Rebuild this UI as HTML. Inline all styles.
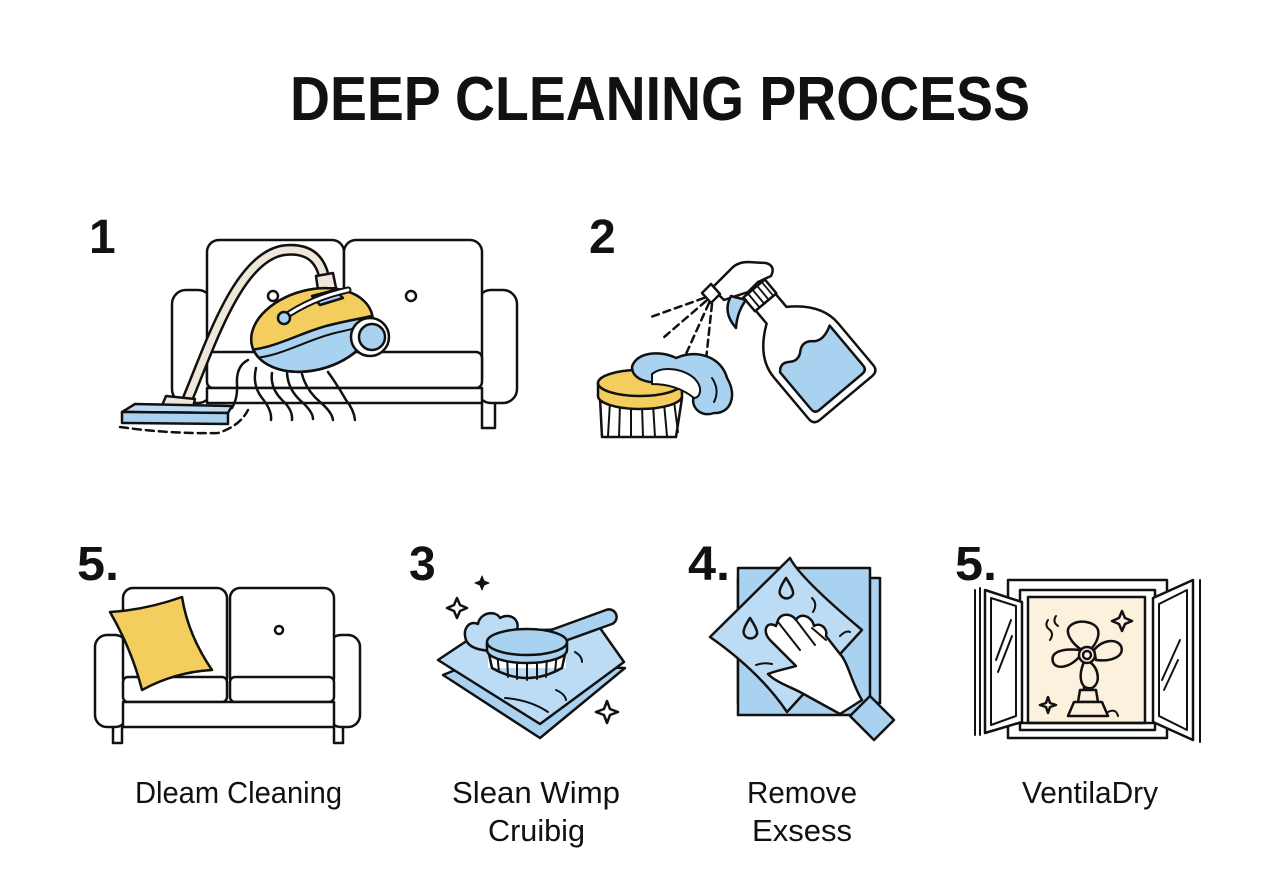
<!DOCTYPE html>
<html><head><meta charset="utf-8"><style>
html,body{margin:0;padding:0;background:#fff;}
svg{display:block;}
text{font-family:"Liberation Sans",sans-serif;fill:#111;}
</style></head><body>
<svg width="1280" height="896" viewBox="0 0 1280 896" xmlns="http://www.w3.org/2000/svg">
<rect width="1280" height="896" fill="#fff"/>
<defs>
<clipPath id="vb"><ellipse cx="312" cy="330" rx="62" ry="40" transform="rotate(-15 312 330)"/></clipPath>
</defs>

<!-- Title -->
<text x="290" y="120" font-size="62" font-weight="bold" textLength="740" lengthAdjust="spacingAndGlyphs">DEEP CLEANING PROCESS</text>

<!-- Numbers -->
<text x="89" y="253" font-size="48" font-weight="bold">1</text>
<text x="589" y="253" font-size="48" font-weight="bold">2</text>
<text x="77" y="580" font-size="48" font-weight="bold" textLength="42" lengthAdjust="spacingAndGlyphs">5.</text>
<text x="409" y="580" font-size="48" font-weight="bold">3</text>
<text x="688" y="580" font-size="48" font-weight="bold" textLength="42" lengthAdjust="spacingAndGlyphs">4.</text>
<text x="955" y="580" font-size="48" font-weight="bold" textLength="42" lengthAdjust="spacingAndGlyphs">5.</text>

<!-- Labels -->
<text x="135" y="803" font-size="31" textLength="207" lengthAdjust="spacingAndGlyphs">Dleam Cleaning</text>
<text x="452" y="803" font-size="31" textLength="168" lengthAdjust="spacingAndGlyphs">Slean Wimp</text>
<text x="488" y="841" font-size="31" textLength="97" lengthAdjust="spacingAndGlyphs">Cruibig</text>
<text x="747" y="803" font-size="31" textLength="110" lengthAdjust="spacingAndGlyphs">Remove</text>
<text x="752" y="841" font-size="31" textLength="100" lengthAdjust="spacingAndGlyphs">Exsess</text>
<text x="1022" y="803" font-size="31" textLength="136" lengthAdjust="spacingAndGlyphs">VentilaDry</text>

<g fill="none" stroke="#111" stroke-width="2.5" stroke-linejoin="round" stroke-linecap="round">

<!-- ===== Step 1: sofa + vacuum ===== -->
<rect x="482" y="400" width="13" height="28" fill="#fff"/>
<rect x="172" y="290" width="40" height="113" rx="14" fill="#fff"/>
<rect x="477" y="290" width="40" height="113" rx="14" fill="#fff"/>
<rect x="207" y="240" width="137" height="150" rx="12" fill="#fff"/>
<rect x="344" y="240" width="138" height="150" rx="12" fill="#fff"/>
<rect x="207" y="352" width="275" height="36" rx="6" fill="#fff"/>
<rect x="207" y="388" width="275" height="15" fill="#fff"/>
<circle cx="273" cy="296" r="5" fill="#fff"/>
<circle cx="411" cy="296" r="5" fill="#fff"/>

<!-- air lines -->
<path d="M248 360 Q236 366 237 384 Q238 398 232 408"/>
<path d="M256 368 Q252 385 262 398 Q272 410 271 420"/>
<path d="M272 373 Q270 388 282 400 Q293 410 292 420"/>
<path d="M287 373 Q288 390 302 402 Q313 412 313 419"/>
<path d="M302 374 Q306 390 320 402 Q332 412 333 420"/>
<path d="M328 372 Q338 386 346 400 Q354 410 355 420"/>

<!-- hose -->
<path d="M188 398 C212 340 240 254 286 250 C312 248 322 262 325 282" stroke-width="12"/>
<path d="M188 398 C212 340 240 254 286 250 C312 248 322 262 325 282" stroke="#efe7da" stroke-width="7"/>
<polygon points="316,276 333,273 336,288 318,290" fill="#efe7da"/>

<!-- vacuum body -->
<ellipse cx="312" cy="330" rx="62" ry="40" transform="rotate(-15 312 330)" fill="#a9d2f0"/>
<path clip-path="url(#vb)" d="M240 350 C270 352 300 332 330 325 C350 320 365 318 380 314 L380 270 L240 270 Z" fill="#f3cd5e" stroke="none"/>
<path clip-path="url(#vb)" d="M240 350 C270 352 300 332 330 325 C350 320 365 318 380 314"/>
<path clip-path="url(#vb)" d="M246 358 C275 360 305 340 335 333 C352 329 366 326 380 322" stroke-width="2"/>
<ellipse cx="312" cy="330" rx="62" ry="40" transform="rotate(-15 312 330)"/>
<path d="M312 296 L335 290 L343 298 L320 305 Z" fill="#a9d2f0"/>
<path d="M283 318 C300 306 320 296 348 290" stroke-width="7"/>
<path d="M283 318 C300 306 320 296 348 290" stroke="#fff" stroke-width="3"/>
<circle cx="284" cy="318" r="6" fill="#a9d2f0"/>
<circle cx="370" cy="337" r="19" fill="#fff"/>
<circle cx="372" cy="337" r="13" fill="#a9d2f0"/>

<!-- nozzle -->
<polygon points="161,408 166,396 195,399 192,411" fill="#efe7da"/>
<polygon points="122,412 135,404 232,406 228,413" fill="#bcdcf5"/>
<polygon points="122,412 228,413 228,424 122,423" fill="#a9d2f0"/>
<path d="M120 427 Q170 434 218 433 Q240 426 248 410" stroke-dasharray="8 5"/>

<!-- ===== Step 2: brush + spray ===== -->
<!-- spray dashes -->
<path d="M704 298 L648 318" stroke-dasharray="7 5"/>
<path d="M706 301 L663 338" stroke-dasharray="7 5"/>
<path d="M709 303 L686 354" stroke-dasharray="7 5"/>
<path d="M712 304 L706 360" stroke-dasharray="7 5"/>

<!-- bottle -->
<g transform="translate(846,398) rotate(-40)">
<path d="M-13 -125 L-13 -108 Q-42 -88 -42 -62 L-42 -8 Q-42 0 -34 0 L34 0 Q42 0 42 -8 L42 -62 Q42 -88 13 -108 L13 -125 Z" fill="#fff"/>
<path d="M-34 -62 Q-28 -70 -20 -64 Q-12 -58 -4 -66 Q4 -72 12 -64 Q20 -58 34 -66 L34 -14 Q34 -8 28 -8 L-28 -8 Q-34 -8 -34 -14 Z" fill="#a9d2f0"/>
<rect x="-14" y="-143" width="28" height="18" fill="#fff"/>
<path d="M-8 -142 L-8 -126 M-2 -142 L-2 -126 M4 -142 L4 -126 M10 -142 L10 -126" stroke-width="1.8"/>
</g>
<!-- trigger head (absolute) -->
<path d="M712 288 L732 268 Q738 262 748 262 L766 263 Q776 266 771 276 L758 282 L748 292 L724 300 Z" fill="#fff"/>
<polygon points="702,293 711,284 720,294 711,303" fill="#fff"/>
<path d="M731 296 Q722 312 736 328 Q737 312 746 300 Z" fill="#a9d2f0"/>

<!-- brush -->
<rect x="600" y="396" width="80" height="40" fill="#fff" stroke="none"/>
<path d="M600 398 L602 437 L676 437 L682 398"/>
<path d="M610 402 L608 436 M620 404 L619 437 M631 405 L631 437 M642 405 L643 437 M653 404 L655 437 M664 403 L667 436 M674 401 L678 432" stroke-width="2"/>
<path d="M598 383 L598 396 A42 13 0 0 0 682 396 L682 383 Z" fill="#f3cd5e"/>
<ellipse cx="640" cy="383" rx="42" ry="13" fill="#f3cd5e"/>
<!-- cloth blob -->
<path d="M632 367 C636 352 660 350 676 358 C698 348 722 358 727 378 C738 396 730 414 714 413 C700 418 690 406 694 396 C690 386 674 384 664 382 C650 384 632 380 632 367 Z" fill="#a9d2f0"/>
<path d="M652 374 C662 366 682 368 694 378 C704 388 700 398 694 398 C684 390 670 384 652 384 Z" fill="#fff" stroke-width="2"/>
<path d="M712 378 Q720 390 714 402" stroke-width="2"/>

<!-- ===== Step 5 sofa (bottom left) ===== -->
<rect x="113" y="722" width="9" height="21" fill="#fff"/>
<rect x="334" y="722" width="9" height="21" fill="#fff"/>
<rect x="95" y="635" width="32" height="92" rx="12" fill="#fff"/>
<rect x="329" y="635" width="31" height="92" rx="12" fill="#fff"/>
<rect x="123" y="588" width="104" height="100" rx="10" fill="#fff"/>
<rect x="230" y="588" width="104" height="100" rx="10" fill="#fff"/>
<rect x="123" y="677" width="104" height="25" rx="5" fill="#fff"/>
<rect x="230" y="677" width="104" height="25" rx="5" fill="#fff"/>
<rect x="123" y="702" width="211" height="25" fill="#fff"/>
<circle cx="279" cy="630" r="4" fill="#fff"/>
<path d="M110 612 Q145 610 182 597 Q188 635 212 670 Q175 672 142 690 Q132 650 110 612 Z" fill="#f3cd5e"/>

<!-- ===== Step 3 scrub ===== -->
<path d="M443 675 L470 664 L625 668 L540 738 Z" fill="#a9d2f0"/>
<path d="M438 660 L480 632 L600 628 L624 662 L540 724 Z" fill="#bcdcf5"/>
<path d="M505 698 Q530 700 548 712 M556 690 Q565 694 566 700 M575 652 Q582 656 582 662" stroke-width="2"/>
<path d="M466 640 C462 628 470 620 478 624 C480 612 496 610 500 618 C510 612 522 620 516 632 L500 650 C488 652 470 650 466 640 Z" fill="#bcdcf5"/>
<path d="M540 634 L606 610 A7 7 0 0 1 612 624 L548 647 Z" fill="#a9d2f0"/>
<rect x="488" y="642" width="78" height="26" fill="#fff" stroke="none"/>
<path d="M487 645 L492 668 Q527 688 562 668 L567 645"/>
<path d="M497 652 L499 672 M507 655 L508 677 M517 656 L517 679 M527 657 L527 680 M537 656 L537 679 M547 655 L546 677 M557 652 L555 672" stroke-width="2"/>
<path d="M487 642 L487 650 A40 13 0 0 0 567 650 L567 642 Z" fill="#a9d2f0"/>
<ellipse cx="527" cy="642" rx="40" ry="13" fill="#a9d2f0"/>
<path d="M482 576 L484 581 L489 583 L484 585 L482 590 L480 585 L475 583 L480 581 Z" fill="#111" stroke-width="1"/>
<path d="M457 598 L460 605 L467 608 L460 611 L457 618 L454 611 L447 608 L454 605 Z" fill="#fff"/>
<path d="M607 701 L610 709 L618 712 L610 715 L607 723 L604 715 L596 712 L604 709 Z" fill="#fff"/>

<!-- ===== Step 4 wipe ===== -->
<rect x="738" y="578" width="142" height="125" fill="#a9d2f0"/>
<rect x="738" y="568" width="132" height="147" fill="#a9d2f0"/>
<path d="M710 637 L790 558 Q800 578 862 630 L787 712 Q760 672 710 637 Z" fill="#bcdcf5"/>
<path d="M786 578 Q778 590 780 594 A7 7 0 0 0 793 594 Q794 590 786 578 Z" fill="#bcdcf5"/>
<path d="M750 618 Q742 630 744 634 A7 7 0 0 0 757 634 Q758 630 750 618 Z" fill="#bcdcf5"/>
<path d="M812 598 Q818 604 813 612 M840 636 Q846 630 850 632 M756 665 Q764 662 772 664" stroke-width="2"/>
<path d="M840 714 L800 692 C788 686 776 682 768 674 C778 670 790 668 796 666 L770 640 C762 632 766 620 776 626 L778 620 C782 612 792 614 796 620 C800 612 812 616 814 626 C820 622 828 628 826 636 L840 654 C848 662 852 684 862 700 Z" fill="#fff"/>
<path d="M778 622 L800 650 M796 620 L815 645 M812 628 L826 640" stroke-width="2"/>
<polygon points="850,716 870,696 894,720 874,740" fill="#a9d2f0"/>

<!-- ===== Step 5 window ===== -->
<rect x="1008" y="580" width="159" height="158" fill="#fff"/>
<rect x="1020" y="590" width="135" height="140" fill="#fff"/>
<rect x="1028" y="597" width="117" height="126" fill="#fbf1dc"/>
<path d="M1020 723 L1155 723"/>
<path d="M975 590 L975 735 M980 588 L980 735" stroke-width="2"/>
<polygon points="985,590 1022,602 1022,722 985,733" fill="#fff"/>
<polygon points="991,598 1016,606 1016,716 991,725" fill="#fff" stroke-width="2"/>
<path d="M996 660 L1011 620 M998 672 L1012 636" stroke-width="2"/>
<polygon points="1153,598 1193,580 1193,740 1153,722" fill="#fff"/>
<polygon points="1159,604 1187,590 1187,730 1159,716" fill="#fff" stroke-width="2"/>
<path d="M1200 580 L1200 742" stroke-width="2"/>
<path d="M1162 680 L1180 640 M1164 690 L1178 660" stroke-width="2"/>
<!-- fan -->
<path d="M1084 696 L1084 670 M1092 696 L1092 670"/>
<path d="M1082 650 C1072 644 1064 632 1070 626 C1078 618 1096 622 1098 630 C1100 638 1094 646 1090 650 Z" fill="#fbf1dc"/>
<path d="M1094 650 C1102 640 1116 638 1121 646 C1125 656 1112 662 1096 660 Z" fill="#fbf1dc"/>
<path d="M1090 662 C1100 670 1100 684 1092 688 C1080 690 1078 676 1084 662 Z" fill="#fbf1dc"/>
<path d="M1080 656 C1070 668 1056 670 1053 662 C1050 652 1062 648 1080 650 Z" fill="#fbf1dc"/>
<circle cx="1087" cy="655" r="8" fill="#fbf1dc"/>
<circle cx="1087" cy="655" r="4"/>
<path d="M1080 690 L1096 690 L1098 702 L1078 702 Z" fill="#fbf1dc"/>
<path d="M1074 702 L1102 702 L1108 716 L1068 716 Z" fill="#fbf1dc"/>
<path d="M1108 712 Q1116 708 1118 716" stroke-width="2"/>
<path d="M1048 620 Q1044 626 1050 630 Q1054 634 1050 640 M1056 616 Q1052 622 1058 626" stroke-width="2"/>
<path d="M1122 611 L1125 618 L1132 621 L1125 624 L1122 631 L1119 624 L1112 621 L1119 618 Z" fill="#fbf1dc"/>
<path d="M1048 697 L1050 703 L1056 705 L1050 707 L1048 713 L1046 707 L1040 705 L1046 703 Z" fill="#fbf1dc"/>
</g>
</svg>
</body></html>
